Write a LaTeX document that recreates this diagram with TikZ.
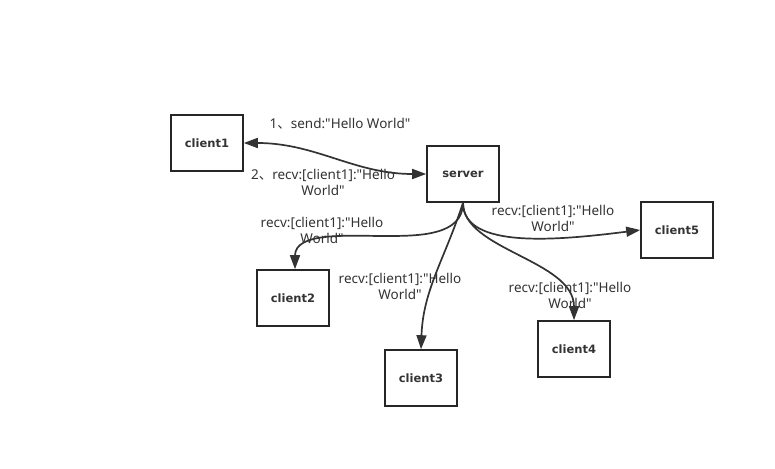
\documentclass[tikz,border=0pt]{standalone}
\usepackage{fontspec}
\newfontfamily\lblfont{Noto Sans}
\newfontfamily\boxfont{DejaVu Sans}
\newfontfamily\cjkfont{Noto Sans CJK SC}
\usetikzlibrary{arrows.meta}
\newcommand{\dun}{{\cjkfont 、}}
\begin{document}
\begin{tikzpicture}[x=1pt,y=-1pt,
  >={Triangle[length=14pt,width=10pt]},
  box/.style={draw=black!85,line width=1.6pt,minimum width=72pt,minimum height=56pt,inner sep=0pt,font=\boxfont\fontsize{11.5}{13}\selectfont\bfseries,text=black!80},
  lbl/.style={font=\lblfont\fontsize{13.5}{16}\selectfont,text=black!80,align=center,inner sep=0pt},
  conn/.style={draw=black!80,line width=1.7pt,->},
  conn2/.style={draw=black!80,line width=1.7pt,<->}]
\useasboundingbox (0,0) rectangle (775,468);
\node[box] (c1) at (207,143) {client1};
\node[box] (s) at (463,174) {server};
\node[box] (c2) at (293,298) {client2};
\node[box] (c3) at (421,378) {client3};
\node[box] (c4) at (574,349) {client4};
\node[box] (c5) at (677,230) {client5};
\coordinate (m2) at (385,236);
\draw[conn2] (c1.east) to[out=0,in=180] (s.west);
\draw[conn] (s.south) to[out=-90,in=0] (m2) to[out=180,in=90] ([xshift=2pt]c2.north);
\draw[conn] (s.south) to[out=-108,in=88] (c3.north);
\draw[conn] (s.south) .. controls (463,250) and (574,260) .. (c4.north);
\draw[conn] (s.south) .. controls (463,250) and (560,240) .. (c5.west);
\node[lbl] (l1) at (340,124) {1\dun send:"Hello World"};
\node[lbl] (l2) at (323,182) {2\dun recv:[client1]:"Hello\\World"};
\node[lbl] (l3) at (322,230) {recv:[client1]:"Hello\\World"};
\node[lbl] (l4) at (400,286) {recv:[client1]:"Hello\\World"};
\node[lbl] (l5) at (570,295) {recv:[client1]:"Hello\\World"};
\node[lbl] (l6) at (553,218) {recv:[client1]:"Hello\\World"};
\end{tikzpicture}
\end{document}
